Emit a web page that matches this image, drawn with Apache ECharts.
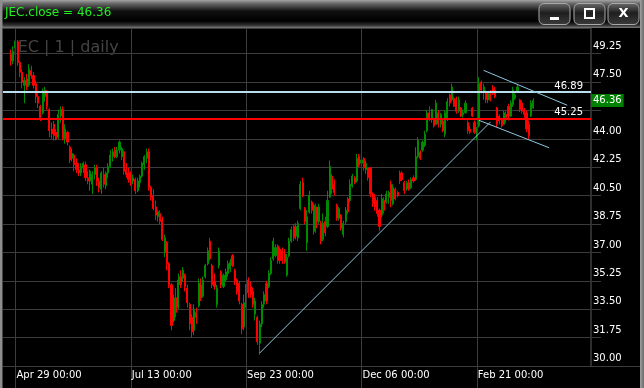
<!DOCTYPE html>
<html><head><meta charset="utf-8">
<script src="https://cdn.jsdelivr.net/npm/echarts@6/dist/echarts.min.js"></script>
<style>html,body{margin:0;padding:0;background:#000;overflow:hidden}#c{width:644px;height:388px}</style>
</head><body><div id="c"></div>
<script>
// ---- data ----
const symbol = 'JEC';
const watermark = 'JEC | 1 | daily';
const opens = [49.2,48.8,49.6,50.0,48.7,48.1,47.3,47.7,47.3,48.2,
47.9,47.4,46.6,46.0,45.6,46.6,46.9,45.8,44.6,44.9,
44.4,44.1,45.4,45.8,44.0,44.4,43.5,42.8,43.0,42.5,
42.1,41.9,42.2,42.4,41.6,41.4,41.2,41.8,42.2,41.4,
40.9,41.8,41.1,41.9,42.3,42.9,43.3,42.9,43.3,42.9,
43.2,42.1,41.9,41.9,41.4,41.5,40.8,41.3,41.7,42.4,
42.8,43.2,41.0,40.5,39.8,39.2,39.4,39.0,37.0,37.6,
36.3,35.0,32.8,34.2,33.6,35.5,35.4,35.6,34.8,33.8,
33.0,32.2,33.3,33.7,35.0,34.3,35.5,36.3,37.7,36.2,
35.2,33.8,36.2,35.8,34.9,35.3,35.7,36.0,36.8,35.9,
35.3,35.1,33.8,32.4,33.7,35.3,34.9,34.6,33.2,33.0,
31.4,32.6,33.8,35.1,34.9,35.7,36.6,36.8,37.4,37.2,
37.1,36.9,35.6,36.8,37.7,38.6,38.0,37.9,39.7,41.3,
39.7,37.6,39.5,40.1,38.3,39.8,38.9,38.8,37.8,38.9,
38.6,40.4,41.7,41.2,39.9,39.1,39.3,38.1,38.9,40.3,
40.2,41.1,41.6,41.4,42.9,42.5,42.8,42.1,42.2,42.2,
40.6,40.4,40.2,39.6,39.3,40.2,40.1,40.4,41.2,40.0,
40.9,40.7,41.9,41.9,41.3,40.9,41.3,41.0,41.6,41.5,
42.9,43.2,43.3,43.6,44.5,45.6,45.2,45.2,44.9,45.6,
44.9,45.1,44.3,45.2,46.7,46.4,46.5,46.4,45.7,45.9,
45.5,45.6,45.0,44.6,45.9,45.0,44.0,44.8,47.5,46.9,
46.9,46.4,46.8,47.1,47.0,45.9,45.4,45.2,44.9,45.5,
46.0,45.4,46.1,46.5,46.9,46.4,46.2,45.8,45.6,44.9,
45.4,45.9];
const closes = [48.8,49.4,50.0,48.7,48.1,47.5,47.6,47.2,48.3,47.9,
47.3,46.6,46.2,45.3,46.9,47.0,46.0,44.5,44.3,44.2,
44.0,45.5,45.8,44.0,44.6,43.8,42.7,43.1,42.4,42.1,
41.9,42.3,42.5,41.6,41.4,42.0,41.8,42.2,41.4,41.0,
41.9,41.2,41.9,42.3,43.0,43.2,42.9,43.3,43.8,43.4,
42.0,41.8,41.5,41.4,41.6,40.8,41.4,41.7,42.5,42.9,
43.2,41.0,40.4,39.7,39.3,39.5,38.9,37.8,37.9,36.3,
35.0,32.5,34.2,33.3,35.3,35.0,35.9,34.9,33.9,32.6,
32.1,33.5,33.0,35.1,34.2,35.3,36.2,37.1,36.6,35.0,
34.9,34.8,37.1,35.0,35.6,35.8,36.3,36.4,36.2,35.2,
34.6,34.0,32.3,33.9,34.8,34.5,34.4,33.8,34.0,31.5,
32.6,33.8,34.4,34.0,35.7,36.5,37.7,37.3,36.5,36.5,
36.5,36.4,36.7,37.7,38.4,37.9,38.6,38.8,41.2,40.5,
38.9,39.2,40.5,39.6,39.9,38.5,39.8,37.7,38.8,38.2,
40.2,42.3,40.9,40.7,39.1,39.7,38.5,38.8,39.6,39.5,
41.2,41.7,41.3,42.8,42.4,42.7,42.2,42.5,41.6,40.6,
40.0,39.8,39.4,38.6,40.3,39.6,40.6,40.7,40.2,41.0,
40.3,40.5,41.4,41.5,40.8,41.3,40.9,41.5,41.4,42.9,
43.9,42.8,43.8,44.3,45.6,45.2,45.8,44.8,46.2,44.9,
45.5,44.5,45.6,46.3,46.2,47.2,46.0,45.7,46.4,45.4,
45.6,46.2,44.5,44.4,45.4,44.4,44.6,47.4,47.0,47.2,
46.4,46.8,46.4,46.8,46.6,44.9,45.1,44.8,45.6,45.3,
45.4,46.2,47.0,46.7,47.2,45.8,45.7,45.5,44.6,44.2,
46.2,46.36];
const lows = [48.5,48.6,49.2,48.5,47.8,47.1,46.2,47.0,47.2,47.7,
47.1,46.2,45.9,45.1,45.5,46.3,45.8,44.1,44.0,43.9,
43.9,44.0,45.0,43.9,43.7,43.6,42.5,42.6,42.0,41.9,
41.7,41.7,41.9,41.4,41.2,40.8,40.6,41.5,41.1,40.7,
40.6,41.0,40.9,41.6,42.2,42.6,42.8,42.8,43.1,42.7,
41.8,41.6,41.3,41.1,41.2,40.6,40.7,41.0,41.6,42.1,
42.5,40.8,40.2,39.6,39.0,38.9,38.75,37.7,36.7,35.9,
34.8,32.2,32.7,33.0,33.5,34.8,35.2,34.6,33.6,32.2,
31.75,31.9,32.6,33.6,34.0,34.2,35.4,36.2,36.5,34.8,
34.7,33.6,36.0,34.8,34.8,35.2,35.5,35.8,36.1,35.0,
34.4,33.8,31.96,32.2,33.6,34.2,34.2,33.6,32.8,31.3,
30.7,32.4,33.6,33.8,34.8,35.6,36.5,36.7,36.3,36.3,
36.3,36.3,35.5,36.7,37.6,37.7,37.8,37.7,39.6,40.4,
38.75,37.1,39.4,39.4,38.1,38.2,38.75,37.5,37.7,38.0,
38.5,40.4,40.6,40.5,38.95,38.95,38.34,37.92,38.7,39.36,
40.1,41.0,41.2,41.3,42.25,42.3,42.04,41.84,41.42,40.4,
39.8,39.57,39.2,38.34,39.16,39.4,40.0,40.0,39.78,39.9,
40.2,40.4,41.22,41.4,40.6,40.8,40.8,40.9,41.3,41.4,
42.8,42.7,43.2,43.5,44.4,45.1,45.0,44.7,44.9,44.7,
44.7,44.4,44.1,45.1,46.0,46.3,45.96,45.55,45.6,45.34,
45.3,45.55,44.31,44.3,45.34,44.31,43.9,44.7,46.8,46.4,
46.2,46.2,46.3,46.7,46.5,44.72,44.9,44.7,44.9,45.0,
45.13,45.34,45.96,46.4,46.9,45.65,45.55,45.3,44.41,44.0,
45.34,45.85];
const highs = [49.5,49.7,50.2,50.1,48.8,48.3,47.8,48.0,48.6,48.5,
48.1,47.6,46.8,46.1,47.1,47.2,47.0,45.9,45.0,45.1,
44.6,45.8,46.0,46.0,44.9,44.5,43.6,43.4,43.1,42.8,
42.5,42.5,42.6,42.6,42.0,42.1,42.0,42.4,42.4,41.6,
42.0,42.2,42.0,42.5,43.3,43.4,43.5,43.5,43.9,43.5,
43.3,42.5,42.2,42.0,41.8,41.6,41.6,41.8,42.6,43.0,
43.4,43.4,41.1,40.9,40.2,39.6,39.6,39.2,38.1,37.7,
36.4,35.1,34.4,34.8,35.7,35.9,36.1,35.7,35.0,33.9,
33.2,33.8,33.6,35.4,35.4,35.5,36.3,37.3,37.9,36.3,
35.7,35.0,37.3,35.9,35.7,36.0,36.5,36.6,36.9,36.0,
35.4,35.25,33.9,34.4,35.05,35.46,35.2,34.84,34.2,33.1,
32.8,34.0,34.6,35.25,35.9,36.7,37.9,37.5,37.5,37.3,
37.3,37.2,36.9,37.9,38.6,38.75,38.8,38.96,41.4,41.6,
39.8,39.6,40.8,40.2,40.0,40.0,40.0,38.95,39.4,39.2,
40.8,42.66,41.84,41.5,40.0,39.8,39.36,38.95,39.8,40.4,
41.5,41.84,41.7,43.07,43.07,42.9,42.87,42.66,42.25,42.25,
40.7,40.6,40.4,39.7,40.6,40.4,40.8,40.8,41.42,41.2,
41.0,40.8,42.05,42.0,41.42,41.4,41.5,41.63,41.75,43.48,
44.1,43.3,43.9,44.5,45.75,46.0,45.85,45.3,46.4,45.75,
45.6,45.24,45.75,46.5,46.8,47.4,46.6,46.6,46.6,45.96,
45.8,46.37,45.13,44.8,45.96,45.13,44.72,47.8,47.6,47.4,
47.0,46.9,47.0,47.3,47.2,45.96,45.5,45.3,45.75,45.7,
46.16,46.37,47.2,46.8,47.4,46.47,46.37,45.9,45.75,45.13,
46.37,46.5];
// x tick labels and the bar index they sit on
const tickLabels = ['Apr 29 00:00','Jul 13 00:00','Sep 23 00:00','Dec 06 00:00','Feb 21 00:00'];
const tickBars = [2, 53, 104, 155, 206];
// y axis
const yMin = 30, yStep = 1.75, yMax = 50.83;
// drawn objects (bar index, price)
const levelBlue = 46.89;
const levelRed = 45.25;
const trendLine = [[110, 30.8], [212, 45.03]];
const channelUpper = [[209, 48.22], [246, 46.07]];
const channelLower = [[207, 45.14], [238, 43.45]];
const padBefore = 3, totalSlots = 260;

// ---- build ----
const lastClose = closes[closes.length - 1];
const cats = [];
for (let i = 0; i < totalSlots; i++) cats.push(String(i - padBefore));
const candleData = cats.map(c => {
  const d = Number(c);
  return (d >= 0 && d < closes.length) ? [opens[d], closes[d], lows[d], highs[d]] : ['-', '-', '-', '-'];
});
const isTick = (idx, val) => tickBars.indexOf(Number(val)) >= 0;
const FONT = 'DejaVu Sans';
const GRID = '#3c3c3c';
const seg = (pts, color) => [
  { coord: [String(pts[0][0]), pts[0][1]], lineStyle: { color: color, width: 1, type: 'solid' } },
  { coord: [String(pts[1][0]), pts[1][1]] }
];

const chart = echarts.init(document.getElementById('c'), null, { renderer: 'canvas' });

function button(x, icon) {
  const els = [{
    type: 'rect', z: 50, shape: { x: x, y: 3.5, width: 31, height: 21, r: 5 },
    style: { fill: new echarts.graphic.LinearGradient(0, 0, 0, 1, [
      { offset: 0, color: '#6c6c6c' }, { offset: 0.45, color: '#1e1e1e' }, { offset: 1, color: '#3c3c3c' }]),
      stroke: '#a8a8a8', lineWidth: 1 }
  }];
  if (icon === 'min') els.push({ type: 'rect', z: 51, shape: { x: x + 11, y: 17, width: 9, height: 3 }, style: { fill: '#fff' } });
  if (icon === 'max') els.push({ type: 'rect', z: 51, shape: { x: x + 11, y: 9, width: 9, height: 9 }, style: { fill: 'none', stroke: '#fff', lineWidth: 2 } });
  if (icon === 'close') els.push({ type: 'text', z: 51, x: x + 15.5, y: 14, style: { text: 'X', fill: '#fff', font: 'bold 13px "DejaVu Sans"', align: 'center', verticalAlign: 'middle' } });
  return els;
}

const option = {
  backgroundColor: '#000',
  animation: false,
  grid: { left: 3, right: 53, top: 28, bottom: 22 },
  xAxis: {
    type: 'category', data: cats, boundaryGap: true,
    axisLine: { show: true, lineStyle: { color: GRID, width: 1 } },
    axisTick: { show: true, alignWithLabel: true, length: 22, interval: isTick, lineStyle: { color: GRID } },
    axisLabel: { show: true, interval: isTick, formatter: v => tickLabels[tickBars.indexOf(Number(v))],
      color: '#fff', fontFamily: FONT, fontSize: 10, align: 'left', margin: 4, padding: [0, 0, 0, 1] },
    splitLine: { show: false }
  },
  yAxis: {
    type: 'value', position: 'right', min: yMin, max: yMax, interval: yStep,
    axisLine: { show: true, lineStyle: { color: '#2e2e2e', width: 2 } },
    axisTick: { show: true, length: 10, lineStyle: { color: GRID } },
    axisLabel: { color: '#fff', fontFamily: FONT, fontSize: 10, margin: 2, align: 'left', verticalAlign: 'bottom',
      lineHeight: 15, formatter: v => v.toFixed(2), showMaxLabel: false },
    splitLine: { show: true, lineStyle: { color: GRID, width: 1 } }
  },
  graphic: [
    { type: 'text', z: 0, left: 13, top: 40, style: { text: watermark, fill: '#444', font: '16px "DejaVu Sans"' } },
    { type: 'rect', z: 40, shape: { x: 0, y: 0, width: 644, height: 28 },
      style: { fill: new echarts.graphic.LinearGradient(0, 0, 0, 1, [
        { offset: 0, color: '#a4a4a4' }, { offset: 0.12, color: '#6a6a6a' }, { offset: 0.4, color: '#101010' },
        { offset: 0.75, color: '#000' }, { offset: 0.9, color: '#303030' }, { offset: 1, color: '#7a7a7a' }]) } },
    { type: 'text', z: 41, x: 5, y: 13, style: { text: symbol + '.close = ' + lastClose.toFixed(2), fill: '#22ee22', font: '12px "DejaVu Sans"', verticalAlign: 'middle' } },
    ...button(539, 'min'), ...button(574, 'max'), ...button(608, 'close'),
    { type: 'rect', z: 60, shape: { x: 0, y: 0, width: 2.5, height: 388 }, style: { fill: '#8e8e8e' } },
    { type: 'rect', z: 60, shape: { x: 640, y: 0, width: 4, height: 388 },
      style: { fill: new echarts.graphic.LinearGradient(0, 0, 1, 0, [{ offset: 0, color: '#a0a0a0' }, { offset: 1, color: '#6a6a6a' }]) } },
    { type: 'line', z: 5, shape: { x1: 591, y1: 366.5, x2: 640, y2: 366.5 }, style: { stroke: GRID, lineWidth: 1 } }
  ],
  series: [
    {
      type: 'line', data: [], z: 1, silent: true,
      markLine: { symbol: ['none', 'none'], silent: true, animation: false, label: { show: false },
        lineStyle: { color: GRID, width: 1, type: 'solid' },
        data: tickBars.map(b => ({ xAxis: String(b) })) }
    },
    {
      type: 'candlestick', z: 3, data: candleData, barWidth: 1.6, clip: false,
      itemStyle: { color: '#008a00', color0: '#ff0000', borderColor: '#008a00', borderColor0: '#ff0000', borderWidth: 1 },
      markLine: {
        symbol: ['none', 'none'], silent: true, animation: false,
        label: { show: false },
        data: [
          { yAxis: levelBlue, lineStyle: { color: '#b9def0', width: 2, type: 'solid' },
            label: { show: true, position: 'insideEndTop', formatter: levelBlue.toFixed(2), color: '#fff', fontFamily: FONT, fontSize: 10, distance: [8, 1] } },
          { yAxis: levelRed, lineStyle: { color: '#ff0000', width: 2, type: 'solid' },
            label: { show: true, position: 'insideEndTop', formatter: levelRed.toFixed(2), color: '#fff', fontFamily: FONT, fontSize: 10, distance: [8, 1] } },
          seg(trendLine, '#8ec6e0'),
          seg(channelUpper, '#8ec6e0'),
          seg(channelLower, '#8ec6e0')
        ]
      }
    },
    {
      type: 'line', data: [], z: 10, silent: true,
      markLine: {
        symbol: ['none', 'none'], silent: true, animation: false,
        data: [
          { yAxis: lastClose, lineStyle: { color: 'rgba(0,0,0,0)', width: 1, type: 'solid' },
            label: { show: true, position: 'end', distance: 0, formatter: lastClose.toFixed(2), color: '#fff',
              backgroundColor: '#008000', padding: [2, 2, 1, 2], fontFamily: FONT, fontSize: 10 } }
        ]
      }
    }
  ]
};
chart.setOption(option);
</script>
</body></html>
